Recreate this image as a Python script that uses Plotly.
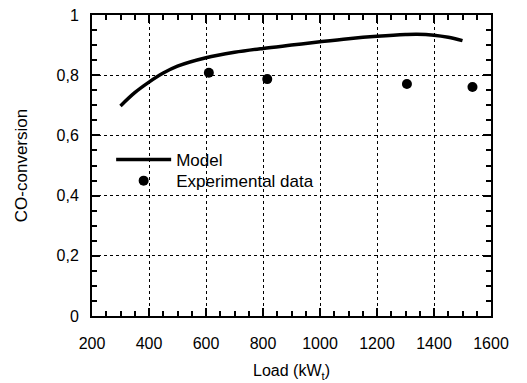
import plotly.graph_objects as go

model_x = [300, 350, 400, 450, 500, 600, 700, 800, 900, 1000, 1100, 1200, 1300, 1340, 1400, 1450, 1500]
model_y = [0.698, 0.742, 0.777, 0.807, 0.830, 0.858, 0.876, 0.889, 0.900, 0.911, 0.921, 0.929, 0.935, 0.936, 0.933, 0.926, 0.915]

exp_x = [610, 815, 1305, 1535]
exp_y = [0.808, 0.787, 0.771, 0.761]

x_range = [200, 1600]
x_major_step = 200
x_minor_step = 50
y_range = [0, 1]
y_major_step = 0.2
y_minor_step = 0.05

fig = go.Figure()
fig.add_trace(go.Scatter(x=model_x, y=model_y, mode="lines", name="Model",
                         line=dict(color="black", width=3.5, shape="spline"),
                         legend="legend"))
fig.add_trace(go.Scatter(x=exp_x, y=exp_y, mode="markers", name="Experimental data",
                         marker=dict(color="black", size=10), legend="legend2"))

font = dict(family="Liberation Sans, Arial, sans-serif", color="black")
leg_common = dict(xanchor="left", yanchor="top", bgcolor="rgba(0,0,0,0)",
                  itemwidth=55, font=dict(size=17, **font))
fig.update_layout(
    width=527, height=383,
    margin=dict(l=92, r=36, t=15, b=67, autoexpand=False),
    paper_bgcolor="white", plot_bgcolor="rgba(0,0,0,0)",
    separators=", ",
    font=dict(size=15, **font),
    showlegend=True,
    legend=dict(x=0.048, y=0.578, **leg_common),
    legend2=dict(x=0.048, y=0.508, **leg_common),
)
axis_common = dict(
    showline=True, linecolor="black", linewidth=2, mirror="allticks",
    ticks="inside", ticklen=8, tickcolor="rgb(0,0,0)", tickwidth=2,
    showgrid=True, gridcolor="black", griddash="dot", gridwidth=1,
    zeroline=False, automargin=False,
    tickfont=dict(size=16, **font),
)
fig.update_xaxes(
    range=x_range, tickmode="linear", tick0=200, dtick=x_major_step,
    minor=dict(ticks="inside", dtick=x_minor_step, ticklen=5, tickwidth=2,
               tickcolor="rgb(0,0,0)", showgrid=False),
    ticklabelstandoff=12,
    title=dict(text="Load (kW<sub>t</sub>)", font=dict(size=16, **font), standoff=14),
    **axis_common,
)
fig.update_yaxes(
    range=y_range, tickmode="linear", tick0=0, dtick=y_major_step,
    minor=dict(ticks="inside", dtick=y_minor_step, ticklen=5, tickwidth=2,
               tickcolor="rgb(0,0,0)", showgrid=False),
    ticklabelstandoff=8,
    title=dict(text="CO-conversion", font=dict(size=17, **font), standoff=25),
    **axis_common,
)

fig.write_html("out.html")
